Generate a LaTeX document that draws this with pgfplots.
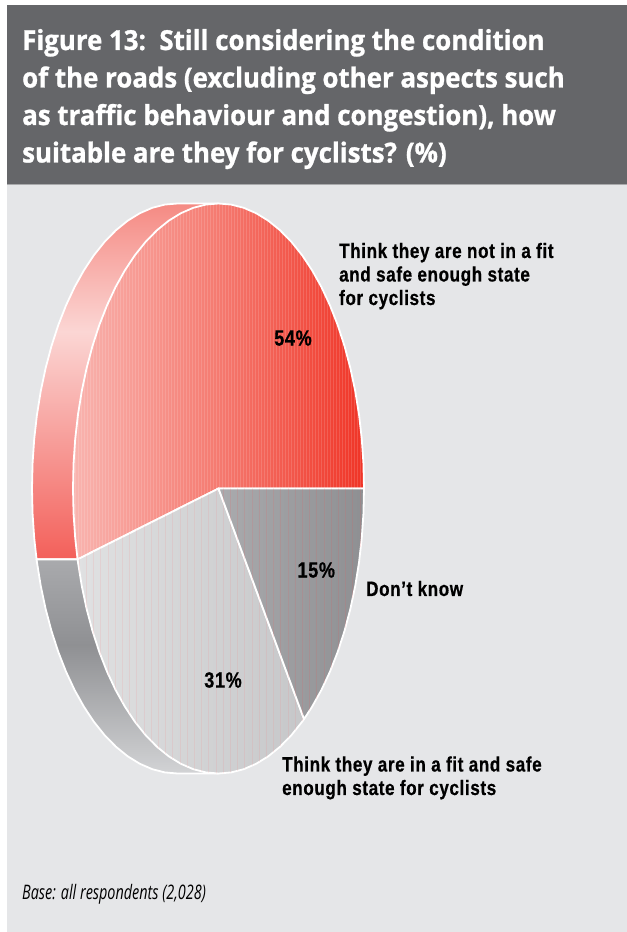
\documentclass[border=0pt]{standalone}
\usepackage{fontspec}
\usepackage{pgfplots}
\usepackage{pgfplotstable}
\pgfplotsset{compat=1.18}
\usetikzlibrary{patterns.meta}
\setmainfont{Liberation Sans}
\newfontfamily\titlefont[Ligatures=Common,FakeStretch=0.94,BoldFeatures={FakeBold=1}]{Open Sans}
\newfontfamily\labelfont[FakeStretch=0.82,LetterSpace=3,BoldFeatures={FakeBold=0.6}]{Liberation Sans}
\newfontfamily\basefont[FakeStretch=0.72]{Open Sans}

\definecolor{panel}{HTML}{E5E6E8}
\definecolor{band}{HTML}{656669}
\definecolor{bandedge}{HTML}{A9AAAC}
\definecolor{rb}{HTML}{F3605A}
\definecolor{rm}{HTML}{FBD6D4}
\definecolor{rt}{HTML}{F58A83}
\definecolor{gb}{HTML}{D2D3D5}
\definecolor{gm}{HTML}{8F9093}
\definecolor{gt}{HTML}{A9AAAD}
\definecolor{fl}{RGB}{249,180,175}
\definecolor{fm}{RGB}{245,122,112}
\definecolor{fr}{RGB}{240,52,38}

\pgfdeclareverticalshading{redrim}{100bp}{color(0bp)=(rb); color(25bp)=(rb); color(57bp)=(rm); color(75bp)=(rt); color(100bp)=(rt)}
\pgfdeclareverticalshading{greyrim}{100bp}{color(0bp)=(gb); color(25bp)=(gb); color(55bp)=(gm); color(75bp)=(gt); color(100bp)=(gt)}
\pgfdeclarehorizontalshading{redface}{100bp}{color(0bp)=(fl); color(25bp)=(fl); color(50bp)=(fm); color(75bp)=(fr); color(100bp)=(fr)}

% Slices on a unit ellipse: 54% from 0 to 194.4 degrees, 31% to 306, 15% to 360.
\pgfplotstableread{
x y
0 0
1 0
.9962 .0872
.9848 .1736
.9659 .2588
.9397 .3420
.9063 .4226
.8660 .5
.8192 .5736
.7660 .6428
.7071 .7071
.6428 .7660
.5736 .8192
.5 .8660
.4226 .9063
.3420 .9397
.2588 .9659
.1736 .9848
.0872 .9962
0 1
-.0872 .9962
-.1736 .9848
-.2588 .9659
-.3420 .9397
-.4226 .9063
-.5 .8660
-.5736 .8192
-.6428 .7660
-.7071 .7071
-.7660 .6428
-.8192 .5736
-.8660 .5
-.9063 .4226
-.9397 .3420
-.9659 .2588
-.9848 .1736
-.9962 .0872
-1 0
-.9962 -.0872
-.9848 -.1736
-.9686 -.2487
}\sliceA
\pgfplotstableread{
x y
0 0
-.9686 -.2487
-.9659 -.2588
-.9397 -.3420
-.9063 -.4226
-.8660 -.5
-.8192 -.5736
-.7660 -.6428
-.7071 -.7071
-.6428 -.7660
-.5736 -.8192
-.5 -.8660
-.4226 -.9063
-.3420 -.9397
-.2588 -.9659
-.1736 -.9848
-.0872 -.9962
0 -1
.0872 -.9962
.1736 -.9848
.2588 -.9659
.3420 -.9397
.4226 -.9063
.5 -.8660
.5736 -.8192
.5878 -.8090
}\sliceB
\pgfplotstableread{
x y
0 0
.5878 -.8090
.6428 -.7660
.7071 -.7071
.7660 -.6428
.8192 -.5736
.8660 -.5
.9063 -.4226
.9397 -.3420
.9659 -.2588
.9848 -.1736
.9962 -.0872
1 0
}\sliceC
% Side walls, set back to the left by 0.2818 of the radius.
\pgfplotstableread{
x y
-.9686 -.2487
-1.2504 -.2487
-1.2666 -.1736
-1.2780 -.0872
-1.2818 0
-1.2780 .0872
-1.2666 .1736
-1.2477 .2588
-1.2215 .3420
-1.1881 .4226
-1.1478 .5
-1.1010 .5736
-1.0478 .6428
-.9889 .7071
-.9246 .7660
-.8554 .8192
-.7818 .8660
-.7044 .9063
-.6238 .9397
-.5406 .9659
-.4554 .9848
-.3690 .9962
-.2818 1
0 1
0 -.2487
}\wallA
\pgfplotstableread{
x y
-.9686 -.2487
-1.2504 -.2487
-1.2477 -.2588
-1.2215 -.3420
-1.1881 -.4226
-1.1478 -.5
-1.1010 -.5736
-1.0478 -.6428
-.9889 -.7071
-.9246 -.7660
-.8554 -.8192
-.7818 -.8660
-.7044 -.9063
-.6238 -.9397
-.5406 -.9659
-.4554 -.9848
-.3690 -.9962
-.2818 -1
0 -1
0 -.2487
}\wallB

\begin{document}
\begin{tikzpicture}[x=1bp,y=1bp]
% page, panel and title band
\fill[white] (0,0) rectangle (627,932);
\fill[panel] (7,0) rectangle (627,748);
\fill[band] (7,748) rectangle (627,927);
\fill[bandedge] (7,747.4) rectangle (627,748.4);

\begin{axis}[
  at={(0,0)}, anchor=south west,
  x=145.5bp, y=285bp,
  xmin=-1.5017, xmax=2.8076, ymin=-1.5561, ymax=1.7140,
  hide axis, clip=false,
  every axis plot/.append style={no markers},
  wedge/.style={draw=white, line width=1.8bp, line join=round},
  stripes/.style={draw=none, pattern={Lines[angle=90,distance=#1,line width=0.7bp]}},
]
\addplot[wedge, shade, shading=redrim] table {\wallA} -- cycle;
\addplot[wedge, shade, shading=greyrim] table {\wallB} -- cycle;

\addplot[wedge, shade, shading=redface] table {\sliceA} -- cycle;
\addplot[stripes=3bp, pattern color=white, opacity=.14] table {\sliceA} -- cycle;

\addplot[wedge, shade, left color={rgb,255:red,224;green,225;blue,226}, right color={rgb,255:red,198;green,199;blue,201}] table {\sliceB} -- cycle;
\addplot[stripes=7.2bp, pattern color=red!55!white, opacity=.12] table {\sliceB} -- cycle;

\addplot[wedge, shade, left color={rgb,255:red,170;green,171;blue,174}, right color={rgb,255:red,142;green,143;blue,146}] table {\sliceC} -- cycle;
\addplot[stripes=7.2bp, pattern color=red!70!white, opacity=.13] table {\sliceC} -- cycle;

\node[font=\labelfont\bfseries\fontsize{22bp}{24bp}\selectfont] at (axis cs:.512,.528) {54\%};
\node[font=\labelfont\bfseries\fontsize{22bp}{24bp}\selectfont] at (axis cs:.672,-.286) {15\%};
\node[font=\labelfont\bfseries\fontsize{22bp}{24bp}\selectfont] at (axis cs:.031,-.672) {31\%};
\end{axis}

% title
\begin{scope}[every node/.style={anchor=base west, inner sep=0pt, text=white, font=\titlefont\bfseries\fontsize{27.5bp}{30bp}\selectfont}]
\node at (22,882) {Figure 13:\ \ Still considering the condition};
\node at (22,844.5) {of the roads (excluding other aspects such};
\node at (22,807) {as traffic behaviour and congestion), how};
\node at (22,769.5) {suitable are they for cyclists? (\%)};
\end{scope}

% slice captions
\begin{scope}[every node/.style={anchor=base west, inner sep=0pt, font=\labelfont\bfseries\fontsize{20.8bp}{24bp}\selectfont}]
\node at (339,674) {Think they are not in a fit};
\node at (339,650.5) {and safe enough state};
\node at (339,627) {for cyclists};
\node at (366,336) {Don’t know};
\node at (282,160.5) {Think they are in a fit and safe};
\node at (282,137) {enough state for cyclists};
\end{scope}

\node[anchor=base west, inner sep=0pt, font=\basefont\itshape\fontsize{20bp}{22bp}\selectfont] at (22,32) {Base: all respondents (2,028)};
\end{tikzpicture}
\end{document}
